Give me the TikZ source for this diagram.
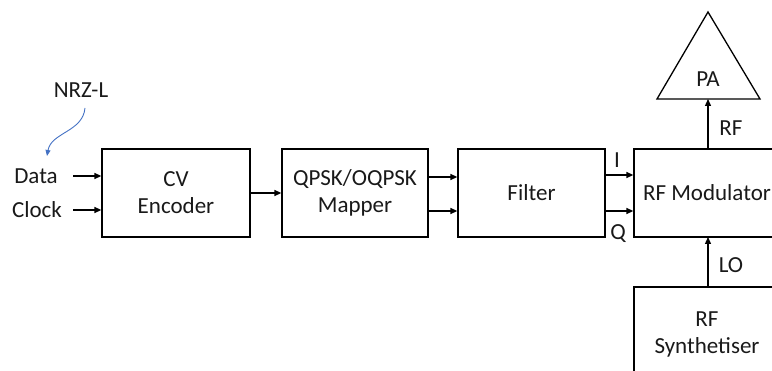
\documentclass[tikz,border=0pt]{standalone}
\usepackage{fontspec}
\setmainfont{Carlito}
\usetikzlibrary{arrows.meta}
\definecolor{offblue}{RGB}{68,114,196}
\begin{document}
\begin{tikzpicture}[x=1pt,y=-1pt,
  every node/.style={font=\fontsize{23}{27}\selectfont, text=black!90},
  blk/.style={draw, line width=1.3pt, minimum width=#1, inner sep=0pt, align=center},
  blk/.default=148pt,
  conn/.style={line width=1.3pt, -{Triangle[length=7pt,width=6pt]}},
  lbl/.style={inner sep=0pt, align=center}]
\useasboundingbox (0,0) rectangle (772,371);
\clip (0,0) rectangle (772,371);
% blocks
\node[blk=148pt, minimum height=88pt] (cv) at (176,193) {CV\\Encoder};
\node[blk=146pt, minimum height=88pt] (map) at (355,193) {QPSK/OQPSK\\Mapper};
\node[blk=147pt, minimum height=88pt] (fil) at (531.5,193) {Filter};
\node[blk=146pt, minimum height=88pt] (mod) at (707,193) {RF Modulator};
\node[blk=146pt, minimum height=100pt] (syn) at (707,337) {};
\node[lbl] (syntxt) at (707,334) {RF\\Synthetiser};
% PA triangle
\draw[line width=1.3pt] (708,12) -- (760,99) -- (657,99) -- cycle;
\coordinate (pab) at (708,99);
\node[lbl] (pa) at (708,79) {PA};
% inputs
\node[lbl] (data) at (36,176) {Data};
\node[lbl] (clock) at (37,210) {Clock};
\coordinate (ds) at (73,176);
\coordinate (cs) at (73,210);
\draw[conn] (ds) -- (ds -| cv.west);
\draw[conn] (cs) -- (cs -| cv.west);
% NRZ-L
\node[lbl] (nrz) at (81,90) {NRZ-L};
\coordinate (ns) at (85,108);
\coordinate (ne) at (47,156);
\draw[offblue, line width=0.9pt, -{Triangle[length=6pt,width=5pt]}] (ns) to[out=-95,in=80] (ne);
% chain
\draw[conn] (cv.east) -- (map.west);
\coordinate (m1) at (map.east |- 0,177);
\coordinate (m2) at (map.east |- 0,211);
\draw[conn] (m1) -- (m1 -| fil.west);
\draw[conn] (m2) -- (m2 -| fil.west);
\coordinate (f1) at (fil.east |- 0,175);
\coordinate (f2) at (fil.east |- 0,211);
\draw[conn] (f1) -- (f1 -| mod.west);
\draw[conn] (f2) -- (f2 -| mod.west);
\node[lbl] (ilab) at (617,160) {I};
\node[lbl] (qlab) at (618,234) {Q};
% RF and LO
\coordinate (mt) at (708,149);
\coordinate (mb) at (708,237);
\coordinate (st) at (708,287);
\draw[conn] (mt) -- (pab);
\node[lbl] (rflab) at (731,128) {RF};
\draw[conn] (st) -- (mb);
\node[lbl] (lolab) at (731,265) {LO};
\end{tikzpicture}
\end{document}
